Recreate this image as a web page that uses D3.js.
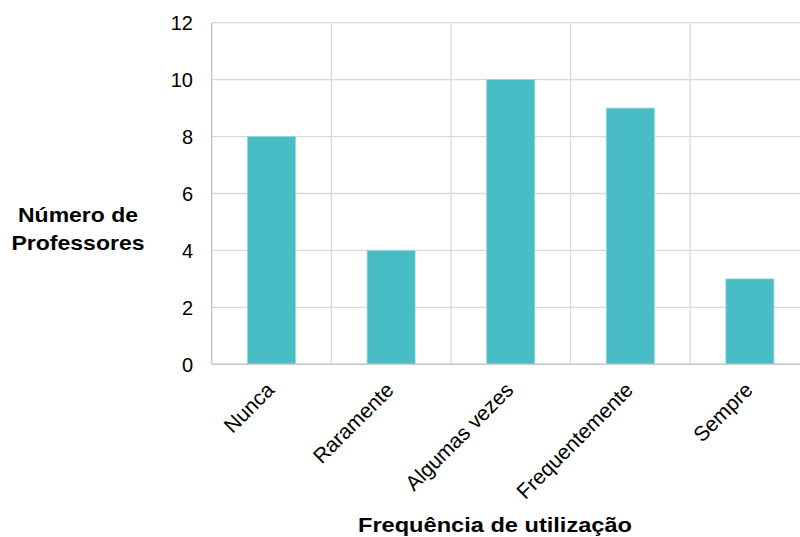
<!DOCTYPE html>
<html><head><meta charset="utf-8">
<script src="https://cdn.jsdelivr.net/npm/d3@7"></script>
<style>body{margin:0;background:#fff}svg{display:block}</style>
</head><body>
<svg id="c" width="800" height="537"></svg>
<script>
const categories = ["Nunca","Raramente","Algumas vezes","Frequentemente","Sempre"];
const values = [8,4,10,9,3];
const yTicks = [0,2,4,6,8,10,12];
const yTitle = ["Número de","Professores"];
const xTitle = "Frequência de utilização";

(function(){
const svg = d3.select("#c");
const pLeft = 211.7, pTop = 22.7, pBottom = 364.3, band = 119.6;
const x = d3.scaleBand().domain(categories).range([pLeft, pLeft + band*categories.length]).paddingInner(0).paddingOuter(0);
const y = d3.scaleLinear().domain([0,12]).range([pBottom, pTop]);
const font = "Liberation Sans, Arial, sans-serif";

// horizontal grid
svg.append("g").selectAll("line").data(yTicks).join("line")
  .attr("x1", pLeft).attr("x2", 800).attr("y1", d=>y(d)).attr("y2", d=>y(d))
  .attr("stroke", "#d9d9d9").attr("stroke-width", 1.3);
// vertical grid
svg.append("g").selectAll("line").data(categories.slice(1)).join("line")
  .attr("x1", d=>x(d)).attr("x2", d=>x(d)).attr("y1", pTop).attr("y2", pBottom)
  .attr("stroke", "#d9d9d9").attr("stroke-width", 1.3);

// bars
const bw = 48;
svg.append("g").selectAll("rect").data(values).join("rect")
  .attr("x", (d,i)=>x(categories[i]) + x.bandwidth()/2 - bw/2)
  .attr("width", bw)
  .attr("y", d=>y(d)).attr("height", d=>pBottom - y(d))
  .attr("fill", "#48bdc6").attr("stroke", "#8fd8dd").attr("stroke-width", 0.8);

// axes lines
svg.append("line").attr("x1", pLeft).attr("x2", pLeft).attr("y1", pTop).attr("y2", pBottom)
  .attr("stroke", "#c8c8c8").attr("stroke-width", 1.5);
svg.append("line").attr("x1", pLeft).attr("x2", 800).attr("y1", pBottom).attr("y2", pBottom)
  .attr("stroke", "#c8c8c8").attr("stroke-width", 1.5);

// y tick labels
svg.append("g").selectAll("text").data(yTicks).join("text")
  .attr("x", 193).attr("y", d=>y(d)).attr("dy", "0.36em")
  .attr("text-anchor", "end").attr("font-family", font).attr("font-size", 20).attr("fill", "#000")
  .text(d=>d);

// x tick labels rotated
svg.append("g").selectAll("text").data(categories).join("text")
  .attr("text-anchor", "end").attr("font-family", font).attr("font-size", 21).attr("fill", "#000")
  .attr("transform", d=>`translate(${x(d)+x.bandwidth()/2 + 4},${pBottom + 27}) rotate(-45)`)
  .text(d=>d);

// y title
const yLens = [120, 133];
svg.append("g").selectAll("text").data(yTitle).join("text")
  .attr("font-family", font).attr("font-size", 21).attr("font-weight", "bold")
  .attr("text-anchor", "middle")
  .attr("x", 78).attr("y", (d,i)=>222 + i*28)
  .attr("textLength", (d,i)=>yLens[i]).attr("lengthAdjust", "spacingAndGlyphs")
  .text(d=>d);

// x title
svg.append("text").attr("x", 495).attr("y", 532).attr("font-family", font).attr("font-size", 21)
  .attr("font-weight", "bold").attr("text-anchor", "middle")
  .attr("textLength", 274).attr("lengthAdjust", "spacingAndGlyphs").text(xTitle);
})();
</script>
</body></html>
